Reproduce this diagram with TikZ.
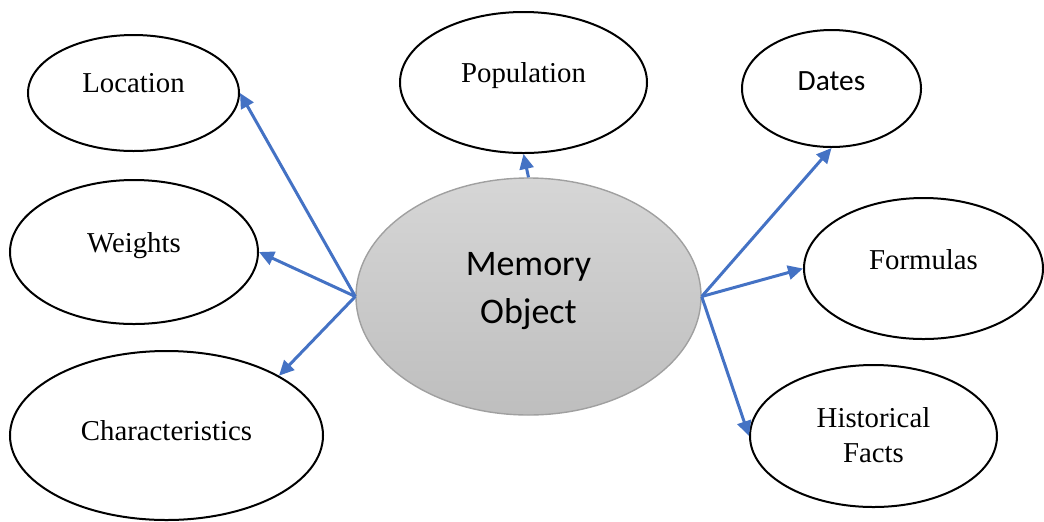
\documentclass[tikz,border=0pt]{standalone}
\usepackage{fontspec}
\setmainfont{Liberation Serif}
\newfontfamily\calibri{Carlito}
\usetikzlibrary{shapes, arrows.meta, positioning}
\definecolor{linkblue}{RGB}{68,114,196}
\definecolor{memtop}{RGB}{214,214,214}
\definecolor{membot}{RGB}{190,190,190}
\definecolor{memedge}{RGB}{160,160,160}
\tikzset{x=0.5pt, y=-0.5pt, % one unit is one pixel of the sketch
         bubble/.style={ % Sets the properties for each outer topic
           ellipse, draw, line width=1pt,
           fill=white, inner sep=0pt},
         core/.style={   % Memory object in the middle
           ellipse, draw=memedge, line width=0.7pt,
           top color=memtop, bottom color=membot, inner sep=0pt},
         txt/.style={font=\fontsize{14.4}{17.5}\selectfont,
           align=center},
         link/.style={   % Blue arrows to the topics
           draw=linkblue, line width=1.5pt,
           -{Triangle[length=7.5pt,width=7pt]}}}

\begin{document}
\begin{tikzpicture}
\useasboundingbox (0,0) rectangle (1044,521);

\node[core, minimum width=172.5pt, minimum height=118.5pt,
      label={[txt, yshift=2.75pt,
              font=\calibri\fontsize{18}{24}\selectfont]center:Memory\\Object}]
      (mem) at (528.5,296.5) {};

\node[bubble, minimum width=105.5pt, minimum height=58pt,
      label={[txt, yshift=5pt]center:Location}] (loc) at (133.5,93) {};
\node[bubble, minimum width=123.5pt, minimum height=70.5pt,
      label={[txt, yshift=3.5pt]center:Population}] (pop) at (523.5,82.5) {};
\node[bubble, minimum width=89.5pt, minimum height=58.5pt,
      label={[txt, yshift=3.75pt, font=\calibri\fontsize{14.7}{17.5}\selectfont]center:Dates}]
      (dat) at (831.5,88.5) {};
\node[bubble, minimum width=124pt, minimum height=72pt,
      label={[txt, yshift=3pt]center:Weights}] (wgt) at (134,252) {};
\node[bubble, minimum width=119.5pt, minimum height=70.5pt,
      label={[txt, yshift=4.25pt]center:Formulas}] (frm) at (923.5,268.5) {};
\node[bubble, minimum width=156.5pt, minimum height=84.5pt,
      label={[txt, yshift=2.25pt]center:Characteristics}] (chr) at (166.5,435.5) {};
\node[bubble, minimum width=123.5pt, minimum height=71pt,
      label={[txt, yshift=0.5pt]center:Historical\\Facts}]
      (hst) at (873.5,436) {};

% arrows from the memory object
\draw[link] (mem.west) -- (loc.east);
\draw[link] (mem.west) -- (wgt.east);
\draw[link] (mem.west) -- (chr.28);
\draw[link] (mem.north) -- (pop.south);
\draw[link] (mem.east) -- (dat.south);
\draw[link] (mem.east) -- (frm.west);
\draw[link] (mem.east) -- (hst.west);

\end{tikzpicture}
\end{document}
